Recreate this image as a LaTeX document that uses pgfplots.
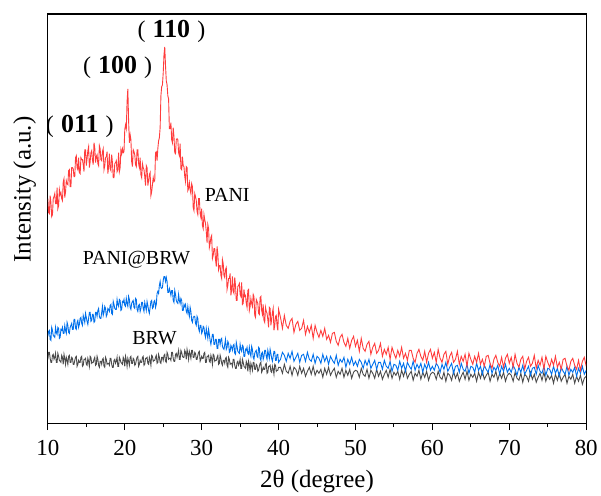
\documentclass[border=0pt]{standalone}
\usepackage{pgfplots}
\usepackage{pgfplotstable}
\pgfplotsset{compat=1.18}
\usepackage{fontspec}
\setmainfont{Liberation Serif}
\definecolor{cRed}{RGB}{255,60,60}
\definecolor{cBlue}{RGB}{0,112,235}
\definecolor{cGray}{RGB}{75,75,75}
\pgfplotstableread{
x R B G
10.0 301 163 140
10.1 287 168 147
10.2 286 169 147
10.3 304 160 141
10.4 297 159 137
10.5 283 172 137
10.6 285 169 144
10.7 301 164 145
10.8 303 163 140
10.9 306 162 142
11.0 296 172 146
11.1 296 167 137
11.2 312 165 137
11.3 291 172 146
11.4 294 171 143
11.5 310 161 139
11.6 305 162 138
11.7 307 170 137
11.8 301 169 144
11.9 299 172 142
12.0 318 166 135
12.1 321 166 145
12.2 302 174 141
12.3 308 169 135
12.4 319 166 142
12.5 316 177 139
12.6 315 174 135
12.7 329 167 143
12.8 330 166 144
12.9 313 172 137
13.0 313 174 137
13.1 332 176 142
13.2 332 170 141
13.3 331 170 135
13.4 323 180 135
13.5 323 180 139
13.6 342 171 142
13.7 344 170 143
13.8 332 177 133
13.9 330 179 135
14.0 342 172 139
14.1 327 175 137
14.2 326 181 137
14.3 342 182 142
14.4 340 176 143
14.5 340 174 133
14.6 335 184 134
14.7 328 181 140
14.8 350 177 140
14.9 350 186 141
15.0 334 182 135
15.1 341 178 134
15.2 349 175 141
15.3 353 181 138
15.4 332 187 133
15.5 338 187 143
15.6 347 178 142
15.7 349 179 136
15.8 340 185 137
15.9 335 185 137
16.0 357 177 140
16.1 352 178 142
16.2 337 187 134
16.3 343 187 135
16.4 345 183 143
16.5 336 189 140
16.6 334 191 134
16.7 354 183 132
16.8 351 181 138
16.9 340 181 138
17.0 339 187 135
17.1 348 193 140
17.2 351 184 141
17.3 330 187 133
17.4 334 193 132
17.5 342 191 142
17.6 343 183 140
17.7 348 185 135
17.8 326 191 136
17.9 333 190 136
18.0 346 188 134
18.1 331 194 141
18.2 329 195 141
18.3 345 186 135
18.4 337 185 132
18.5 322 198 132
18.6 322 195 139
18.7 336 191 140
18.8 337 190 136
18.9 339 190 138
19.0 328 200 142
19.1 330 195 133
19.2 347 193 133
19.3 328 200 142
19.4 332 199 140
19.5 350 189 137
19.6 346 190 136
19.7 351 198 135
19.8 347 197 142
19.9 348 200 140
20.0 370 194 133
20.1 375 193 143
20.2 371 201 139
20.3 398 196 133
20.4 411 193 141
20.5 379 203 138
20.6 357 200 134
20.7 365 192 142
20.8 360 190 143
20.9 338 196 136
21.0 333 198 136
21.1 350 199 141
21.2 348 192 140
21.3 345 191 134
21.4 335 201 135
21.5 333 200 139
21.6 350 190 142
21.7 350 188 143
21.8 336 194 133
21.9 332 195 135
22.0 342 188 139
22.1 325 191 137
22.2 322 197 137
22.3 336 197 142
22.4 332 191 143
22.5 330 188 134
22.6 323 197 135
22.7 314 193 141
22.8 334 189 141
22.9 332 198 142
23.0 314 194 136
23.1 319 189 135
23.2 325 186 142
23.3 327 192 139
23.4 304 198 134
23.5 308 199 144
23.6 315 191 143
23.7 322 192 138
23.8 318 198 139
23.9 319 199 139
24.0 347 192 142
24.1 348 195 144
24.2 339 206 136
24.3 351 208 137
24.4 359 206 145
24.5 362 214 142
24.6 372 218 137
24.7 404 212 136
24.8 413 211 142
24.9 415 212 142
25.0 427 219 139
25.1 445 223 144
25.2 453 223 145
25.3 434 218 138
25.4 419 222 137
25.5 415 218 147
25.6 404 207 145
25.7 401 207 140
25.8 371 211 141
25.9 371 208 141
26.0 377 204 139
26.1 360 209 147
26.2 357 209 147
26.3 372 199 141
26.4 363 197 138
26.5 347 209 138
26.6 346 205 145
26.7 360 199 146
26.8 361 197 142
26.9 360 196 145
27.0 347 205 149
27.1 344 199 140
27.2 356 196 140
27.3 331 201 149
27.4 330 199 147
27.5 343 189 143
27.6 334 189 142
27.7 333 195 142
27.8 323 193 149
27.9 318 195 147
28.0 333 188 140
28.1 332 186 150
28.2 309 193 146
28.3 311 187 140
28.4 317 183 148
28.5 310 192 145
28.6 306 188 141
28.7 316 179 149
28.8 313 177 149
28.9 292 182 142
29.0 289 183 142
29.1 306 183 147
29.2 303 176 146
29.3 299 174 140
29.4 288 183 140
29.5 285 181 144
29.6 301 171 147
29.7 301 168 148
29.8 286 174 138
29.9 282 174 140
30.0 291 166 143
30.1 274 168 141
30.2 271 173 141
30.3 285 172 146
30.4 280 165 147
30.5 276 162 137
30.6 268 171 137
30.7 257 166 143
30.8 275 161 143
30.9 271 170 144
31.0 252 165 138
31.1 256 159 137
31.2 262 155 144
31.3 264 160 141
31.4 241 165 135
31.5 244 165 145
31.6 251 155 144
31.7 251 155 138
31.8 240 160 139
31.9 233 160 139
32.0 253 151 142
32.1 246 151 144
32.2 230 160 135
32.3 234 160 136
32.4 234 155 144
32.5 224 160 141
32.6 221 161 136
32.7 240 153 134
32.8 236 151 139
32.9 224 150 139
33.0 222 155 136
33.1 230 160 141
33.2 232 150 142
33.3 210 152 134
33.4 214 158 132
33.5 221 156 142
33.6 221 147 140
33.7 226 148 135
33.8 204 154 136
33.9 210 152 136
34.0 223 149 133
34.1 208 154 140
34.2 206 155 140
34.3 222 146 134
34.4 214 145 131
34.5 199 157 131
34.6 199 153 137
34.7 213 148 138
34.8 214 147 134
34.9 216 146 136
35.0 205 155 140
35.1 203 150 131
35.2 217 148 131
35.3 195 154 140
35.4 196 153 137
35.5 210 143 133
35.6 203 143 132
35.7 204 150 131
35.8 196 149 138
35.9 192 152 136
36.0 209 146 128
36.1 210 145 138
36.2 189 152 134
36.3 193 146 128
36.4 201 143 136
36.5 196 153 133
36.6 193 150 129
36.7 205 142 137
36.8 203 140 137
36.9 184 146 130
37.0 182 148 130
37.1 200 149 135
37.2 198 143 134
37.3 196 142 128
37.4 186 152 129
37.5 185 151 133
37.6 202 141 136
37.7 203 139 137
37.8 189 146 127
37.9 185 147 129
38.0 195 140 132
38.1 179 143 130
38.2 177 149 130
38.3 192 149 135
38.4 188 143 136
38.5 186 140 126
38.6 180 149 127
38.7 172 145 133
38.8 192 141 133
38.9 191 150 134
39.0 174 146 128
39.1 180 141 127
39.2 187 138 133
39.3 191 143 130
39.4 169 148 125
39.5 174 148 135
39.6 183 139 134
39.7 184 139 128
39.8 174 145 129
39.9 169 145 129
40.0 190 137 132
40.25 182 140 132
40.5 171 147 126
40.75 184 144 135
41.0 174 138 128
41.25 171 146 126
41.5 178 141 133
41.75 181 148 124
42.0 167 138 132
42.25 175 142 130
42.5 178 146 124
42.75 169 137 133
43.0 171 144 126
43.25 179 145 131
43.5 165 138 123
43.75 173 147 128
44.0 167 140 132
44.25 174 138 125
44.5 161 145 133
44.75 174 136 124
45.0 167 143 129
45.25 162 141 126
45.5 169 136 130
45.75 163 145 122
46.0 171 138 131
46.25 160 143 125
46.5 164 135 132
46.75 157 143 124
47.0 166 139 128
47.25 167 136 131
47.5 158 144 122
47.75 154 134 128
48.0 162 140 125
48.25 165 137 131
48.5 157 142 122
48.75 153 132 129
49.0 161 140 124
49.25 151 135 130
49.5 159 142 121
49.75 163 134 127
50.0 153 138 129
50.25 159 133 128
50.5 148 140 122
50.75 161 137 131
51.0 151 131 125
51.25 148 139 123
51.5 155 134 130
51.75 158 140 121
52.0 145 131 129
52.25 152 135 126
52.5 156 139 121
52.75 146 130 130
53.0 149 137 123
53.25 156 137 128
53.5 143 130 120
53.75 150 139 125
54.0 145 133 129
54.25 152 131 122
54.5 140 138 130
54.75 152 128 121
55.0 146 135 127
55.25 141 134 124
55.5 149 129 128
55.75 143 138 120
56.0 152 131 129
56.25 141 136 123
56.5 146 128 130
56.75 139 137 121
57.0 149 133 125
57.25 149 130 128
57.5 141 138 119
57.75 137 129 126
58.0 146 135 123
58.25 150 131 129
58.5 143 136 120
58.75 139 127 127
59.0 148 135 122
59.25 137 130 128
59.5 146 137 119
59.75 150 129 125
60.0 141 133 127
60.25 147 129 126
60.5 137 136 120
60.75 150 133 128
61.0 141 127 122
61.25 137 135 120
61.5 145 130 127
61.75 148 137 118
62.0 135 128 126
62.25 143 132 124
62.5 147 136 119
62.75 137 126 128
63.0 140 133 121
63.25 148 134 126
63.5 135 127 118
63.75 143 136 123
64.0 138 130 127
64.25 145 128 120
64.5 133 135 128
64.75 146 126 119
65.0 140 133 125
65.25 135 132 122
65.5 143 127 126
65.75 137 136 118
66.0 146 129 127
66.25 135 133 121
66.5 140 125 128
66.75 133 134 120
67.0 143 130 124
67.25 144 127 127
67.5 136 135 118
67.75 131 126 125
68.0 140 132 122
68.25 144 129 128
68.5 137 134 119
68.75 133 125 126
69.0 142 133 121
69.25 132 128 127
69.5 141 135 118
69.75 145 127 124
70.0 136 131 126
70.25 142 127 124
70.5 132 134 118
70.75 145 130 127
71.0 136 124 121
71.25 132 132 119
71.5 140 127 126
71.75 143 134 117
72.0 130 125 125
72.25 138 129 123
72.5 142 133 118
72.75 133 124 127
73.0 136 131 120
73.25 144 132 125
73.5 131 125 117
73.75 139 134 122
74.0 134 128 126
74.25 142 126 119
74.5 130 133 127
74.75 143 124 118
75.0 137 131 124
75.25 132 130 120
75.5 140 125 124
75.75 134 133 116
76.0 143 126 125
76.25 132 131 119
76.5 137 123 126
76.75 130 132 118
77.0 140 128 122
77.25 141 125 125
77.5 133 133 116
77.75 129 124 123
78.0 138 130 120
78.25 141 127 125
78.5 134 132 116
78.75 130 123 123
79.0 139 131 118
79.25 129 126 124
79.5 138 133 115
79.75 142 125 121
80.0 133 129 123
}\xrd
\begin{document}
\begin{tikzpicture}
\begin{axis}[
  name=ax,
  scale only axis,
  width=540pt, height=410.5pt,
  xmin=10, xmax=80,
  ymin=76, ymax=486,
  axis line style={line width=1.2pt, black},
  xtick={10,20,...,80},
  minor x tick num=1,
  xtick pos=bottom,
  xtick align=outside,
  major tick length=7pt,
  minor tick length=4pt,
  every tick/.style={black, line width=1pt},
  ytick=\empty,
  /pgf/number format/assume math mode=true,
  xticklabel style={font=\fontsize{23}{27}\selectfont, yshift=-7pt},
  xlabel={2θ (degree)},
  xlabel style={font=\fontsize{25}{29}\selectfont, at={(axis description cs:0.5,-0.105)}, anchor=north},
  ylabel={Intensity (a.u.)},
  ylabel style={font=\fontsize{25}{29}\selectfont, at={(axis description cs:-0.043,0.571)}, anchor=center, rotate=0},
  clip=true,
]
\addplot[cGray, line width=0.9pt] table[x=x, y=G] {\xrd};
\addplot[cBlue, line width=0.9pt] table[x=x, y=B] {\xrd};
\addplot[cRed, line width=0.9pt] table[x=x, y=R] {\xrd};
\node[font=\fontsize{24}{28}\selectfont] at (axis cs:14.15,373) {(\hspace{0.3em}{\fontsize{26}{28}\selectfont\bfseries 011}\hspace{0.3em})};
\node[font=\fontsize{24}{28}\selectfont] at (axis cs:19.07,432) {(\hspace{0.3em}{\fontsize{26}{28}\selectfont\bfseries 100}\hspace{0.3em})};
\node[font=\fontsize{24}{28}\selectfont] at (axis cs:26.07,468) {(\hspace{0.3em}{\fontsize{26}{28}\selectfont\bfseries 110}\hspace{0.3em})};
\node[font=\fontsize{20}{24}\selectfont] at (axis cs:33.33,305) {PANI};
\node[font=\fontsize{20}{24}\selectfont] at (axis cs:21.54,240) {PANI@BRW};
\node[font=\fontsize{20}{24}\selectfont] at (axis cs:23.87,161) {BRW};
\end{axis}
\path (ax.south west) ++(-48pt,-68.5pt) (ax.north east) ++(13pt,14pt);
\end{tikzpicture}
\end{document}
